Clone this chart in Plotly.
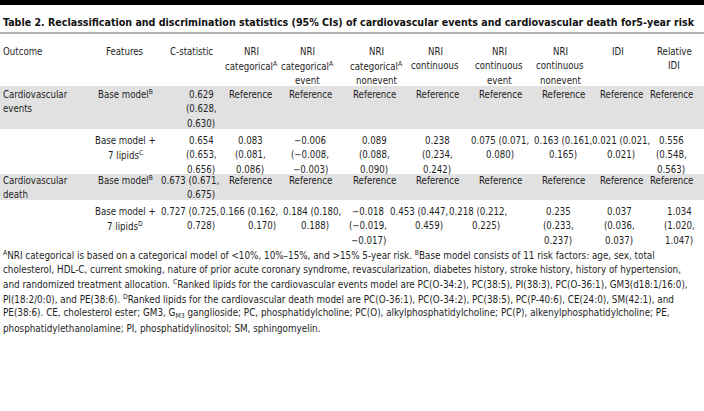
import plotly.graph_objects as go

# ---------------- data ----------------
title = "Table 2. Reclassification and discrimination statistics (95% CIs) of cardiovascular events and cardiovascular death for5-year risk"

header_outcome = "Outcome"
header_features = "Features"
value_headers = [
    "C-statistic",
    "NRI<br>categorical<sup>A</sup>",
    "NRI<br>categorical<sup>A</sup><br>event",
    "NRI<br>categorical<sup>A</sup><br>nonevent",
    "NRI<br>continuous",
    "NRI<br>continuous<br>event",
    "NRI<br>continuous<br>nonevent",
    "IDI",
    "Relative<br>IDI",
]

outcomes = ["Cardiovascular<br>events", "Cardiovascular<br>death"]
features = ["Base model<sup>B</sup>", "Base model +<br>7 lipids<sup>C</sup>",
            "Base model<sup>B</sup>", "Base model +<br>7 lipids<sup>D</sup>"]

c_statistic       = ["0.629 (0.628, 0.630)", "0.654 (0.653, 0.656)", "0.673 (0.671, 0.675)", "0.727 (0.725, 0.728)"]
nri_cat           = ["Reference", "0.083 (0.081, 0.086)", "Reference", "0.166 (0.162, 0.170)"]
nri_cat_event     = ["Reference", "−0.006 (−0.008, −0.003)", "Reference", "0.184 (0.180, 0.188)"]
nri_cat_nonevent  = ["Reference", "0.089 (0.088, 0.090)", "Reference", "−0.018 (−0.019, −0.017)"]
nri_cont          = ["Reference", "0.238 (0.234, 0.242)", "Reference", "0.453 (0.447, 0.459)"]
nri_cont_event    = ["Reference", "0.075 (0.071, 0.080)", "Reference", "0.218 (0.212, 0.225)"]
nri_cont_nonevent = ["Reference", "0.163 (0.161, 0.165)", "Reference", "0.235 (0.233, 0.237)"]
idi               = ["Reference", "0.021 (0.021, 0.021)", "Reference", "0.037 (0.036, 0.037)"]
relative_idi      = ["Reference", "0.556 (0.548, 0.563)", "Reference", "1.034 (1.020, 1.047)"]

footnotes = [
    "<sup>A</sup>NRI categorical is based on a categorical model of &lt;10%, 10%–15%, and &gt;15% 5-year risk. <sup>B</sup>Base model consists of 11 risk factors: age, sex, total",
    "cholesterol, HDL-C, current smoking, nature of prior acute coronary syndrome, revascularization, diabetes history, stroke history, history of hypertension,",
    "and randomized treatment allocation. <sup>C</sup>Ranked lipids for the cardiovascular events model are PC(O-34:2), PC(38:5), PI(38:3), PC(O-36:1), GM3(d18:1/16:0),",
    "PI(18:2/0:0), and PE(38:6). <sup>D</sup>Ranked lipids for the cardiovascular death model are PC(O-36:1), PC(O-34:2), PC(38:5), PC(P-40:6), CE(24:0), SM(42:1), and",
    "PE(38:6). CE, cholesterol ester; GM3, G<sub>M3</sub> ganglioside; PC, phosphatidylcholine; PC(O), alkylphosphatidylcholine; PC(P), alkenylphosphatidylcholine; PE,",
    "phosphatidylethanolamine; PI, phosphatidylinositol; SM, sphingomyelin.",
]

columns = [c_statistic, nri_cat, nri_cat_event, nri_cat_nonevent, nri_cont,
           nri_cont_event, nri_cont_nonevent, idi, relative_idi]

# ---------------- layout / style ----------------
W, H = 704, 411
FONT = "DejaVu Sans Condensed, Liberation Sans Narrow, Roboto, sans-serif"
FS = 9.6          # table text
FS_NOTE = 9.8     # footnotes
FS_TITLE = 10.6
TXT = "#1e1e1e"
BAND = "#e1e1e1"
LH = 14.6

header_center = [191, 251, 307, 376, 435, 499, 560, 618, 674]
col_center    = [201, 250, 310, 374, 437, 500, 563, 621, 671]   # rows 1-3
col_center_r4 = [201, 262, 315, 368, 429, 486, 558, 619, 679]   # row 4 continuation lines
col_left      = [159, 218, 281, 352, 388, 447, 536, 597, 660]   # start of overflowing lines
feat_center = 125
row_top = [94, 140, 180, 211]
header_top = 51
bands = [(86, 129), (174, 200)]

wrap = [
    ["c3", "c1", "c1", "c1", "c1", "c1", "c1", "c1", "c1"],
    ["c3", "c3", "c3", "c3", "c3", "c2", "c2", "c2", "c3"],
    ["l2", "c1", "c1", "c1", "c1", "c1", "c1", "c1", "c1"],
    ["l2", "l2", "l2", "c3", "l2", "l2", "c3", "c3", "c3"],
]

fig = go.Figure()
annots = []
shapes = []


def add_text(x, y, text, anchor="center", size=FS, bold=False, color=TXT):
    annots.append(dict(
        x=x, y=y, xref="x", yref="y", text=("<b>%s</b>" % text) if bold else text,
        showarrow=False, xanchor=anchor, yanchor="middle", align=anchor,
        font=dict(family=FONT, size=size, color=color)))


def add_lines(x, y0, text, anchor="center"):
    for i, line in enumerate(text.split("<br>")):
        add_text(x, y0 + i * LH, line, anchor)


shapes.append(dict(type="rect", xref="x", yref="y", x0=0, x1=W, y0=0, y1=5,
                   fillcolor="#000000", line=dict(width=0), layer="below"))
shapes.append(dict(type="line", xref="x", yref="y", x0=0, x1=W, y0=33, y1=33,
                   line=dict(color="#6b6b6b", width=1.2)))
for (b0, b1) in bands:
    shapes.append(dict(type="rect", xref="x", yref="y", x0=0, x1=W, y0=b0, y1=b1,
                       fillcolor=BAND, line=dict(width=0), layer="below"))

add_text(1, 22, title, anchor="left", size=FS_TITLE, bold=True, color="#111111")

add_lines(1, header_top, header_outcome, "left")
add_lines(feat_center, header_top, header_features)
for ci, h in enumerate(value_headers):
    add_lines(header_center[ci], header_top, h)

for ri in range(4):
    y0 = row_top[ri]
    centers = col_center_r4 if ri == 3 else col_center
    if ri % 2 == 0:
        add_lines(1, y0, outcomes[ri // 2], "left")
    add_lines(feat_center, y0, features[ri])
    for ci, col in enumerate(columns):
        val = col[ri]
        style = wrap[ri][ci]
        toks = val.split(" ")
        if style == "c1":
            add_text(centers[ci], y0, val)
        elif style == "c3":
            for k, t in enumerate(toks):
                add_text(centers[ci], y0 + k * LH, t)
        elif style == "c2":
            add_text(centers[ci], y0, " ".join(toks[:2]))
            add_text(centers[ci], y0 + LH, toks[2])
        else:
            add_text(col_left[ci], y0, " ".join(toks[:2]), anchor="left")
            add_text(centers[ci], y0 + LH, toks[2])

for i, fn in enumerate(footnotes):
    add_text(1, 255 + i * LH, fn, anchor="left", size=FS_NOTE)

fig.update_layout(
    width=W, height=H, margin=dict(l=0, r=0, t=0, b=0),
    paper_bgcolor="white", plot_bgcolor="white",
    xaxis=dict(range=[0, W], visible=False, fixedrange=True),
    yaxis=dict(range=[H, 0], visible=False, fixedrange=True),
    annotations=annots, shapes=shapes, showlegend=False,
)
fig.write_html("out.html", config={"displayModeBar": False},
               post_script="document.body.style.margin='0';document.body.style.overflow='hidden';")
